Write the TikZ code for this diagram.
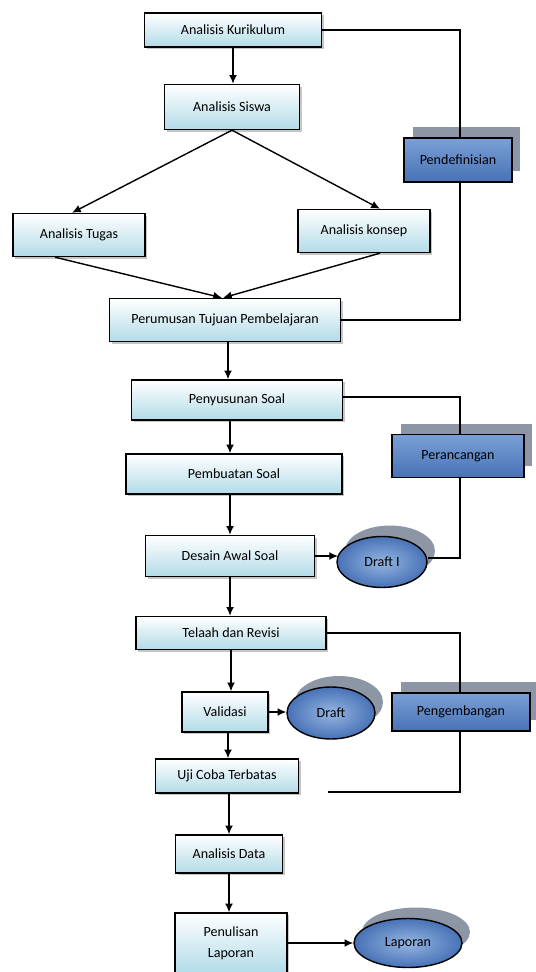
\documentclass[tikz,border=0pt]{standalone}
\usepackage{fontspec}
\setmainfont{Carlito}
\usetikzlibrary{shapes.geometric,shadows,arrows.meta}

\definecolor{lightbot}{RGB}{178,219,232}
\definecolor{darktop}{RGB}{122,160,214}
\definecolor{darkmid}{RGB}{150,182,226}
\definecolor{darkbot}{RGB}{72,114,182}
\definecolor{shadowgray}{RGB}{140,150,165}

\tikzset{
  stepbox/.style={draw, line width=0.8pt, inner sep=0pt, align=center,
    top color=white, bottom color=lightbot,
    drop shadow={shadow xshift=1.2pt, shadow yshift=-1.2pt, fill=gray, opacity=0.45}},
  phasebox/.style={draw, line width=0.8pt, inner sep=0pt,
    top color=darktop, middle color=darkmid, bottom color=darkbot,
    general shadow={shadow xshift=0.17cm, shadow yshift=0.22cm, fill=shadowgray}},
  outcome/.style={ellipse, draw, line width=0.8pt, inner sep=0pt,
    inner color=darkmid, outer color=darkbot,
    general shadow={shadow xshift=0.16cm, shadow yshift=0.22cm, fill=shadowgray}},
  flow/.style={line width=0.8pt, -{Latex[length=5pt,width=4.5pt]}},
  link/.style={line width=0.8pt}
}

\begin{document}
\begin{tikzpicture}[x=0.02cm, y=-0.02cm, font=\fontsize{8}{10}\selectfont]
    \useasboundingbox (0,0) rectangle (536,972);

    % Define nodes of the main flow
    \node[stepbox, minimum width=3.54cm, minimum height=0.68cm] (kurikulum) at (233, 30) {Analisis Kurikulum};
    \node[stepbox, minimum width=2.70cm, minimum height=0.90cm] (siswa) at (232, 107) {Analisis Siswa};
    \node[stepbox, minimum width=2.64cm, minimum height=0.86cm] (tugas) at (79, 235) {Analisis Tugas};
    \node[stepbox, minimum width=2.64cm, minimum height=0.86cm] (konsep) at (364, 231) {Analisis konsep};
    \node[stepbox, minimum width=4.62cm, minimum height=0.86cm] (tujuan) at (225, 320) {Perumusan Tujuan Pembelajaran};
    \node[stepbox, minimum width=4.22cm, minimum height=0.80cm] (penyusunan) at (237, 400) {Penyusunan Soal};
    \node[stepbox, minimum width=4.32cm, minimum height=0.80cm] (pembuatan) at (234, 474) {Pembuatan Soal};
    \node[stepbox, minimum width=3.38cm, minimum height=0.82cm] (desain) at (230, 556) {Desain Awal Soal};
    \node[stepbox, minimum width=3.80cm, minimum height=0.66cm] (telaah) at (231, 633) {Telaah dan Revisi};
    \node[stepbox, minimum width=1.72cm, minimum height=0.80cm] (validasi) at (225, 712) {Validasi};
    \node[stepbox, minimum width=2.86cm, minimum height=0.68cm] (ujicoba) at (227, 776) {Uji Coba Terbatas};
    \node[stepbox, minimum width=2.14cm, minimum height=0.76cm] (data) at (229, 854) {Analisis Data};
    \node[stepbox, minimum width=2.24cm, minimum height=1.20cm] (penulisan) at (231, 943) {Penulisan\\[2pt]Laporan};

    % Define phase nodes
    \node[phasebox, minimum width=2.16cm, minimum height=0.88cm] (definisi) at (458, 160) {Pendefinisian};
    \node[phasebox, minimum width=2.64cm, minimum height=0.86cm] (rancang) at (458, 456) {Perancangan};
    \node[phasebox, minimum width=2.76cm, minimum height=0.76cm] (kembang) at (461, 712) {Pengembangan};

    % Define product nodes
    \node[outcome, minimum width=1.80cm, minimum height=1.02cm] (draftI) at (382, 562) {Draft I};
    \node[outcome, minimum width=1.76cm, minimum height=1.04cm] (draft) at (331, 713) {Draft};
    \node[outcome, minimum width=2.16cm, minimum height=0.98cm] (laporan) at (408, 943) {Laporan};
    \coordinate (ujiend) at (328, 792);

    % Draw arrows
    \draw[flow] (kurikulum.south) -- (kurikulum.south |- siswa.north);
    \draw[flow] (siswa.south) -- ([xshift=-0.14cm]tugas.north);
    \draw[flow] (siswa.south) -- ([xshift=0.32cm]konsep.north);
    \draw[flow] ([xshift=-0.48cm]tugas.south) -- ([xshift=-0.06cm]tujuan.north);
    \draw[flow] ([xshift=0.32cm]konsep.south) -- ([xshift=-0.04cm]tujuan.north);
    \draw[flow] ([xshift=0.06cm]tujuan.south) -- ([xshift=0.06cm]tujuan.south |- penyusunan.north);
    \draw[flow] ([xshift=-0.14cm]penyusunan.south) -- ([xshift=-0.14cm]penyusunan.south |- pembuatan.north);
    \draw[flow] (desain.north |- pembuatan.south) -- (desain.north);
    \draw[flow] (desain.east) -- ([xshift=1pt]desain.east -| draftI.west);
    \draw[flow] (desain.south) -- (desain.south |- telaah.north);
    \draw[flow] (telaah.south) -- (telaah.south |- validasi.north);
    \draw[flow] (validasi.east) -- (validasi.east -| draft.west);
    \draw[flow] ([xshift=0.06cm]validasi.south) -- ([xshift=0.06cm]validasi.south |- ujicoba.north);
    \draw[flow] (data.north |- ujicoba.south) -- (data.north);
    \draw[flow] (data.south) -- (data.south |- penulisan.north);
    \draw[flow] (penulisan.east) -- (penulisan.east -| laporan.west);

    % Draw phase lines
    \draw[link] (kurikulum.east) -| ([xshift=0.04cm]definisi.north);
    \draw[link] ([xshift=0.04cm]definisi.south) |- (tujuan.east);
    \draw[link] ([yshift=0.06cm]penyusunan.east) -| ([xshift=0.04cm]rancang.north);
    \draw[link] ([xshift=0.04cm]rancang.south) |- ([yshift=0.08cm]draftI.east);
    \draw[link] (telaah.east) -| ([xshift=-0.02cm]kembang.north);
    \draw[link] ([xshift=-0.02cm]kembang.south) |- (ujiend);

\end{tikzpicture}
\end{document}
